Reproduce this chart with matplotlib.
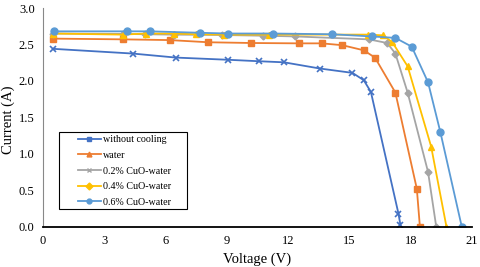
import matplotlib.pyplot as plt
from matplotlib.lines import Line2D
from matplotlib.patches import Rectangle

plt.rcParams['font.family'] = ['Liberation Serif', 'DejaVu Serif']

# I-V data
v_none = [0.5, 4.4, 6.5, 9.05, 10.55, 11.8, 13.55, 15.15, 15.7, 16.05, 17.4, 17.5]
i_none = [2.44, 2.375, 2.32, 2.29, 2.27, 2.255, 2.17, 2.11, 2.01, 1.85, 0.18, 0.02]

v_water = [0.5, 3.9, 6.2, 8.1, 10.2, 12.55, 13.65, 14.65, 15.7, 16.25, 17.25, 18.3, 18.45]
i_water = [2.58, 2.57, 2.56, 2.53, 2.52, 2.515, 2.515, 2.49, 2.42, 2.32, 1.84, 0.52, 0.0]

v_02 = [0.5, 3.9, 5.0, 6.4, 8.75, 10.75, 12.35, 15.95, 16.85, 17.25, 17.85, 18.85, 19.25]
i_02 = [2.65, 2.645, 2.64, 2.635, 2.63, 2.62, 2.61, 2.57, 2.52, 2.375, 1.84, 0.75, 0.0]

v_04 = [0.5, 3.9, 5.05, 6.4, 7.5, 8.85, 11.05, 15.9, 16.65, 17.1, 17.85, 19.0, 19.75]
i_04 = [2.65, 2.635, 2.65, 2.65, 2.64, 2.635, 2.635, 2.635, 2.625, 2.53, 2.2, 1.1, 0.0]

v_06 = [0.55, 4.1, 5.25, 7.7, 9.05, 11.25, 14.15, 16.1, 17.25, 18.05, 18.85, 19.45, 20.5]
i_06 = [2.68, 2.68, 2.68, 2.66, 2.65, 2.65, 2.64, 2.61, 2.59, 2.47, 1.98, 1.30, 0.0]

labels = ['without cooling', 'water', '0.2% CuO-water', '0.4% CuO-water', '0.6% CuO-water']
colors = ['#4472C4', '#ED7D31', '#A5A5A5', '#FFC000', '#5B9BD5']

fig = plt.figure(figsize=(4.8, 2.67), dpi=100)
ax = fig.add_axes([0.0896, 0.151, 0.8937, 0.819])

ax.plot(v_none, i_none, color=colors[0], lw=1.3, marker='x', ms=5, mew=1.2)
ax.plot(v_water, i_water, color=colors[1], lw=1.3, marker='s', ms=4.5)
ax.plot(v_02, i_02, color=colors[2], lw=1.3, marker='D', ms=3.5)
ax.plot(v_04, i_04, color=colors[3], lw=1.3, marker='^', ms=5)
ax.plot(v_06, i_06, color=colors[4], lw=1.3, marker='o', ms=5)

ax.set_xlim(0, 21)
ax.set_ylim(0, 3.0)
ax.set_xticks(range(0, 22, 3))
ax.set_yticks([0, 0.5, 1.0, 1.5, 2.0, 2.5, 3.0])
ax.set_yticklabels(['0.0', '0.5', '1.0', '1.5', '2.0', '2.5', '3.0'])
ax.tick_params(length=0, labelsize=9, pad=6)
ax.spines['top'].set_visible(False)
ax.spines['right'].set_visible(False)
ax.spines['left'].set_color('#888888')
ax.spines['bottom'].set_linewidth(1.3)
ax.set_xlabel('Voltage (V)', fontsize=10.5, labelpad=4)
ax.set_ylabel('Current (A)', fontsize=10.5)
ax.yaxis.set_label_coords(-0.066, 0.49)

# legend box drawn separately so its padding matches the original
ax.add_patch(Rectangle((0.037, 0.081), 0.298, 0.352, transform=ax.transAxes,
                       facecolor='white', edgecolor='black', lw=0.8, zorder=5))

# legend markers as shown in the original (they differ from the plot)
leg_markers = ['s', '^', 'x', 'D', 'o']
handles = [Line2D([], [], color=c, lw=1.3, marker=m, ms=3.5) for c, m in zip(colors, leg_markers)]
leg = ax.legend(handles, labels, loc='upper left', bbox_to_anchor=(0.0765, 0.4266),
                borderaxespad=0, fontsize=7.2, frameon=False,
                handlelength=2.3, labelspacing=0.66, borderpad=0.2, handletextpad=0.17)
leg.set_zorder(6)

fig.savefig('out.png', dpi=100)
